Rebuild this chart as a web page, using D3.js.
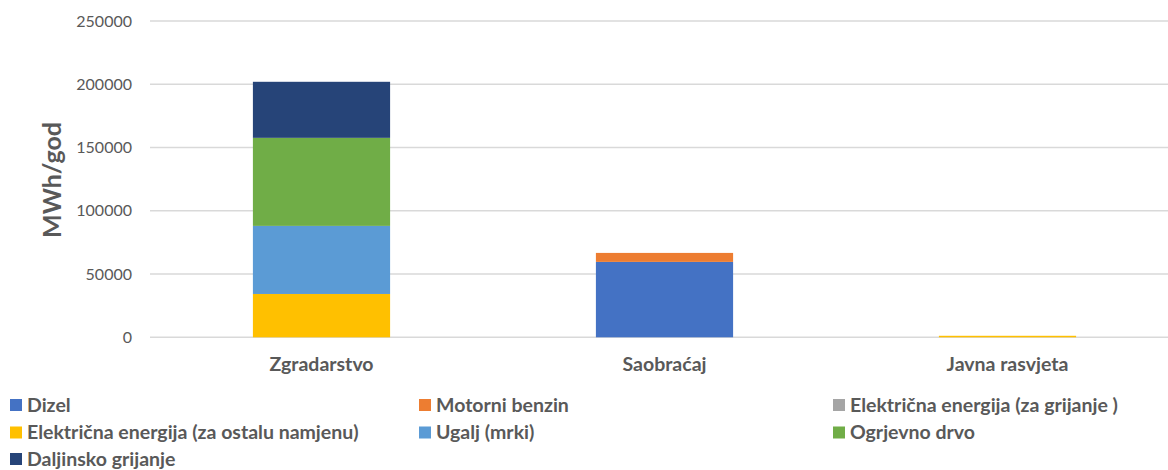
<!DOCTYPE html>
<html><head><meta charset="utf-8">
<script src="https://cdn.jsdelivr.net/npm/d3@7"></script>
<style>body{margin:0;background:#fff}text{font-family:Lato,"Open Sans",sans-serif}</style>
</head><body><svg id="c" width="1168" height="470"></svg>
<script>
const categories = ["Zgradarstvo", "Saobraćaj", "Javna rasvjeta"];
const seriesNames = ["Dizel", "Motorni benzin", "Električna energija (za grijanje )", "Električna energija (za ostalu namjenu)", "Ugalj (mrki)", "Ogrjevno drvo", "Daljinsko grijanje"];
const dizel = [0, 59600, 0];
const motorniBenzin = [0, 7100, 0];
const elGrijanje = [0, 0, 0];
const elOstalo = [34250, 0, 1200];
const ugalj = [53800, 0, 0];
const ogrjevnoDrvo = [69600, 0, 0];
const daljinsko = [44300, 0, 0];
const tickValues = [0, 50000, 100000, 150000, 200000, 250000];
const colors = ["#4472C4", "#ED7D31", "#A5A5A5", "#FFC000", "#5B9BD5", "#70AD47", "#264478"];
const yTitle = "MWh/god";

const seriesVals = [dizel, motorniBenzin, elGrijanje, elOstalo, ugalj, ogrjevnoDrvo, daljinsko];
const rows = categories.map((c, i) => {
  const r = {cat: c};
  seriesNames.forEach((s, j) => r[s] = seriesVals[j][i]);
  return r;
});
const stacked = d3.stack().keys(seriesNames)(rows);

const svg = d3.select("#c");
const x = d3.scaleBand().domain(categories).range([150, 1179]).padding(0);
const y = d3.scaleLinear().domain([0, 250000]).range([337.3, 21]);
const barW = x.bandwidth() * 0.4;

// gridlines
svg.append("g").selectAll("line").data(tickValues).join("line")
  .attr("x1", 150).attr("x2", 1168)
  .attr("y1", d => y(d)).attr("y2", d => y(d))
  .attr("stroke", "#d9d9d9").attr("stroke-width", 1.5);

// y axis labels
const yAxis = d3.axisLeft(y).tickValues(tickValues).tickFormat(d3.format("d")).tickSize(0).tickPadding(0);
const ya = svg.append("g").attr("transform", "translate(132,0)").call(yAxis);
ya.select(".domain").remove();
ya.selectAll("text").attr("fill", "#595959").style("font-size", "16px").style("font-family", "Lato");

// bars
svg.append("g").selectAll("g").data(stacked).join("g")
  .attr("fill", (d, i) => colors[i])
  .selectAll("rect").data(d => d).join("rect")
  .attr("x", d => x(d.data.cat) + (x.bandwidth() - barW) / 2)
  .attr("width", barW)
  .attr("y", d => y(d[1]))
  .attr("height", d => Math.max(0, y(d[0]) - y(d[1])));

// x axis labels
const xAxis = d3.axisBottom(x).tickSize(0).tickPadding(0);
const xa = svg.append("g").attr("transform", "translate(0,357)").call(xAxis);
xa.select(".domain").remove();
xa.selectAll("text").attr("fill", "#595959").style("font-size", "19.5px").style("font-weight", "bold").style("font-family", "Lato");

// y title
svg.append("text").attr("transform", "translate(61,180) rotate(-90)")
  .attr("text-anchor", "middle").attr("fill", "#595959")
  .style("font-size", "25px").style("font-weight", "bold").text(yTitle);

// legend
const legX = [10, 419, 833];
const legY = [405, 432.5, 459];
const leg = svg.append("g").selectAll("g").data(seriesNames).join("g")
  .attr("transform", (d, i) => `translate(${legX[i % 3]},${legY[Math.floor(i / 3)]})`);
leg.append("rect").attr("x", 0).attr("y", -6).attr("width", 12).attr("height", 12)
  .attr("fill", (d, i) => colors[i]);
leg.append("text").attr("x", 17).attr("y", 6.5).attr("fill", "#595959")
  .style("font-size", "19.5px").style("font-weight", "bold").text(d => d);
</script></body></html>
